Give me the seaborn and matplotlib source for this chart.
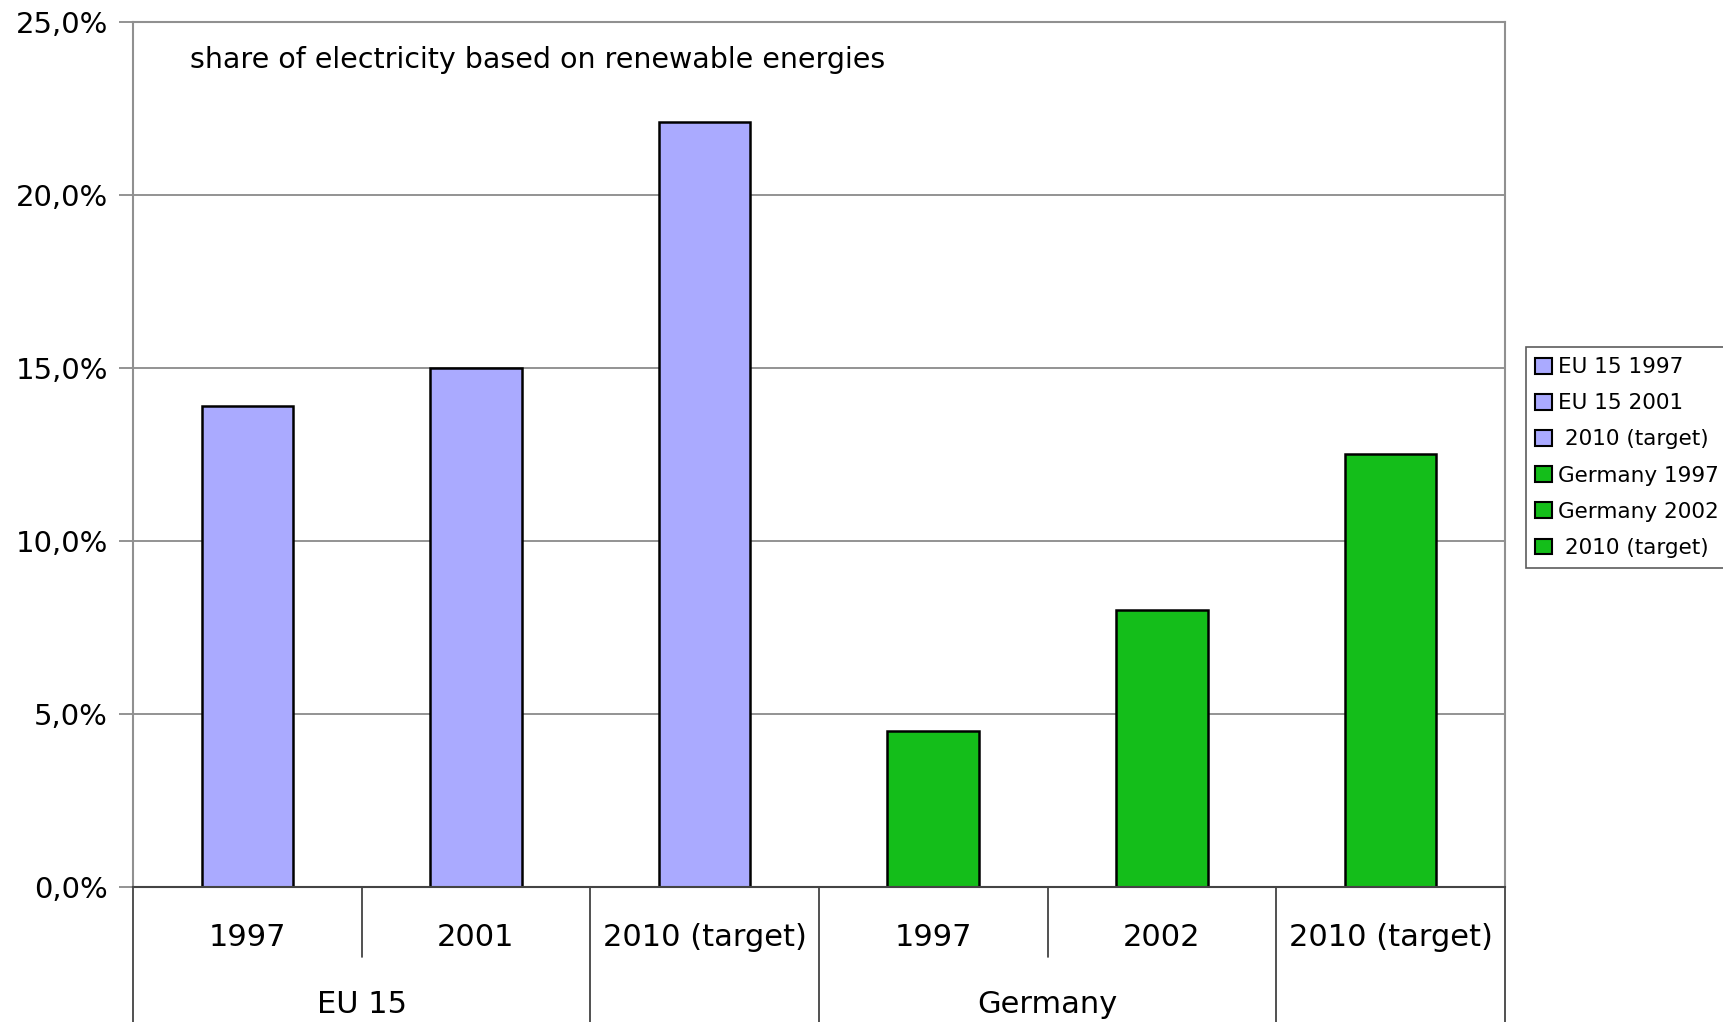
import pandas as pd
import matplotlib.pyplot as plt
import seaborn as sns
from matplotlib.patches import Patch
from matplotlib.ticker import FuncFormatter

# chart data
slots = ["EU 15 1997", "EU 15 2001", "EU 15 2010 (target)",
         "Germany 1997", "Germany 2002", "Germany 2010 (target)"]
values = [13.9, 15.0, 22.1, 4.5, 8.0, 12.5]
year_labels = ["1997", "2001", "2010 (target)", "1997", "2002", "2010 (target)"]
group_labels = ["EU 15", "Germany"]
legend_labels = ["EU 15 1997", "EU 15 2001", " 2010 (target)",
                 "Germany 1997", "Germany 2002", " 2010 (target)"]
colors = ["#AAAAFF", "#AAAAFF", "#AAAAFF", "#14BE1A", "#14BE1A", "#14BE1A"]
title = "share of electricity based on renewable energies"

df = pd.DataFrame({"slot": slots, "value": values})

sns.set_style("white")
plt.rcParams["font.family"] = ["DejaVu Sans"]
plt.rcParams["text.color"] = "black"
plt.rcParams["ytick.labelcolor"] = "black"

fig = plt.figure(figsize=(17.24, 10.22), dpi=100)
ax = fig.add_axes([0.0771, 0.1321, 0.7958, 0.8464])

sns.barplot(data=df, x="slot", y="value", hue="slot", palette=colors,
            width=0.4, edgecolor="black", linewidth=1.8, legend=False,
            saturation=1, ax=ax)

ax.set_xlim(-0.5, 5.5)
ax.set_ylim(0, 25)
ax.set_yticks([0, 5, 10, 15, 20, 25])
ax.yaxis.set_major_formatter(FuncFormatter(lambda v, p: f"{v:.1f}%".replace(".", ",")))
ax.tick_params(axis="y", labelsize=21, length=10, width=1.2, color="#808080",
               labelcolor="black", pad=8, left=True)
ax.set_xticks([])
ax.set_xlabel("")
ax.set_ylabel("")
ax.grid(axis="y", color="#808080", linewidth=1.2)
ax.set_axisbelow(True)
for side in ["top", "right", "left"]:
    ax.spines[side].set_color("#909090")
    ax.spines[side].set_linewidth(1.5)
ax.spines["bottom"].set_color("#444444")
ax.spines["bottom"].set_linewidth(1.5)

ax.text(0.0415, 0.956, title, transform=ax.transAxes, fontsize=20.5,
        va="center", ha="left", color="black")

# multi-level category axis
trans = ax.get_xaxis_transform()
for i, lab in enumerate(year_labels):
    ax.text(i, -0.058, lab, transform=trans, ha="center", va="center",
            fontsize=22, color="black")
ax.text(0.5, -0.136, group_labels[0], transform=trans, ha="center", va="center",
        fontsize=22, color="black")
ax.text(3.5, -0.136, group_labels[1], transform=trans, ha="center", va="center",
        fontsize=22, color="black")
for b in [-0.5, 1.5, 2.5, 4.5, 5.5]:
    ax.plot([b, b], [0, -0.16], transform=trans, color="#333333", lw=1.2, clip_on=False)
for b in [0.5, 3.5]:
    ax.plot([b, b], [0, -0.081], transform=trans, color="#333333", lw=1.2, clip_on=False)

handles = [Patch(facecolor=c, edgecolor="black", linewidth=1.5, label=l)
           for c, l in zip(colors, legend_labels)]
leg = fig.legend(handles=handles, loc="upper left", bbox_to_anchor=(0.885, 0.66),
                 fontsize=15.5, frameon=True, fancybox=False, edgecolor="#333333",
                 handlelength=0.75, handleheight=0.75, handletextpad=0.3,
                 labelspacing=0.75, borderpad=0.45, borderaxespad=0)
leg.get_frame().set_linewidth(1.2)

fig.savefig("out.png", dpi=100)
